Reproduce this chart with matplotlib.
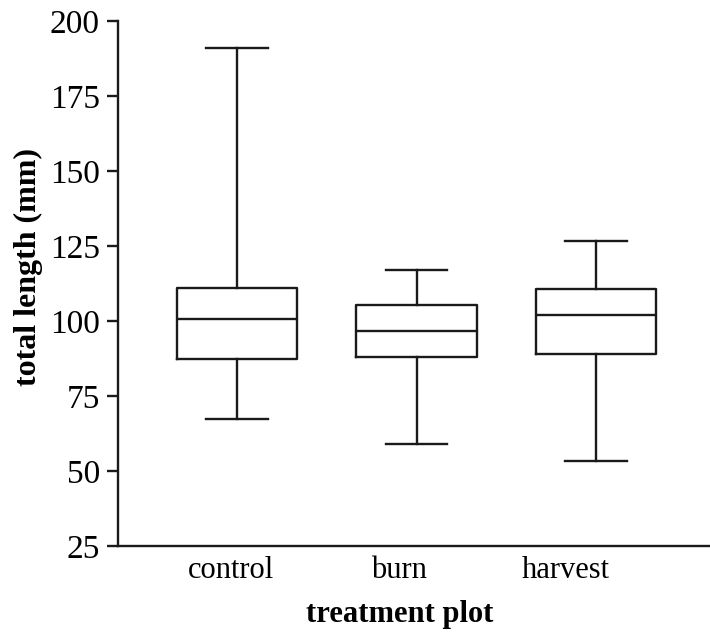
import matplotlib
matplotlib.use("Agg")
import matplotlib.pyplot as plt

categories = ["control", "burn", "harvest"]
whisker_low = [67.2, 59.0, 53.4]
q1 = [87.3, 88.1, 88.9]
median = [100.8, 96.7, 101.9]
q3 = [110.9, 105.3, 110.7]
whisker_high = [191.0, 116.9, 126.8]
yticks = [25, 50, 75, 100, 125, 150, 175, 200]

plt.rcParams['font.family'] = ['Liberation Serif', 'DejaVu Serif']

fig = plt.figure(figsize=(7.1, 6.34), dpi=100)
ax = fig.add_axes([118/710, 1-546/634, 1-118/710, (546-21)/634])

stats = []
for i, c in enumerate(categories):
    stats.append(dict(label=c, whislo=whisker_low[i], q1=q1[i], med=median[i],
                      q3=q3[i], whishi=whisker_high[i], fliers=[]))

lw = 1.7
col = "#1a1a1a"
ax.bxp(stats, positions=[1, 2, 3], widths=0.669, capwidths=0.345, showfliers=False,
       boxprops=dict(color=col, linewidth=lw),
       whiskerprops=dict(color=col, linewidth=lw),
       capprops=dict(color=col, linewidth=lw),
       medianprops=dict(color=col, linewidth=lw))

ax.set_xlim(0.337, 3.635)
ax.set_ylim(25, 200)
ax.set_yticks(yticks)
ax.set_yticklabels([str(t) for t in yticks], fontsize=24)
ax.set_xticks([0.969, 1.905, 2.830])
ax.set_xticklabels(categories, fontsize=22)
ax.tick_params(axis='x', length=0, pad=7)
ax.tick_params(axis='y', length=8, width=lw, pad=5, color=col)
for s in ['top', 'right']:
    ax.spines[s].set_visible(False)
for s in ['left', 'bottom']:
    ax.spines[s].set_linewidth(lw)
    ax.spines[s].set_color(col)

ax.set_xlabel("treatment plot", fontsize=22, fontweight='bold', labelpad=11)
ax.xaxis.label.set_x(0.476)
ax.set_ylabel("total length (mm)", fontsize=23, fontweight='bold')
ax.yaxis.set_label_coords(-0.126, 0.531)

fig.savefig("out.png", dpi=100)
